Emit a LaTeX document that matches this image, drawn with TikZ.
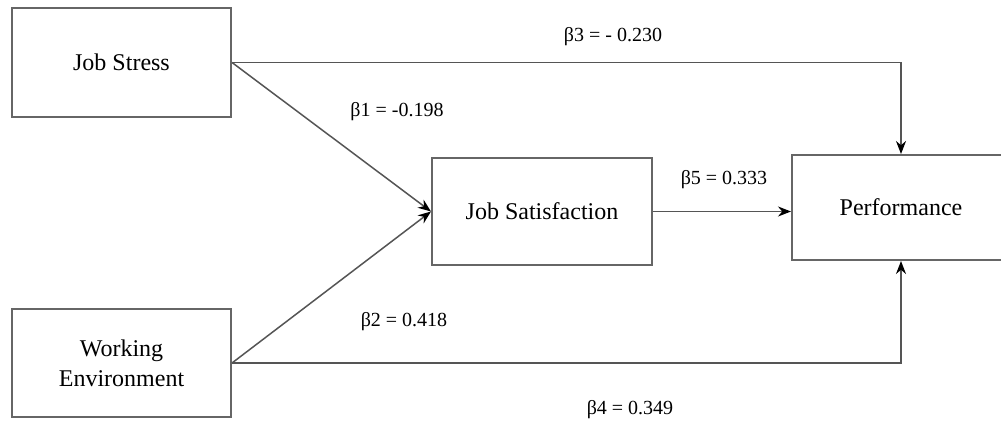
\documentclass[tikz,border=0pt]{standalone}
\usepackage{fontspec}
\setmainfont{Liberation Serif}
\usetikzlibrary{arrows.meta}
\definecolor{boxgray}{HTML}{666666}
\definecolor{linegray}{HTML}{555555}
\tikzset{
  box/.style={draw=boxgray, line width=2pt, fill=white, inner sep=0pt, align=center,
    font=\fontsize{24}{30}\selectfont},
  conn/.style={draw=linegray, line width=1.5pt, -{Stealth[length=13pt,width=10pt,color=black]}},
  coef/.style={font=\fontsize{20}{24}\selectfont, inner sep=0pt}
}
\begin{document}
\begin{tikzpicture}[x=1pt,y=-1pt]
\clip (0,0) rectangle (1001,423);
\fill[white] (0,0) rectangle (1001,423);
\node[box, minimum width=219pt, minimum height=109pt] (js) at (121.5,62.5) {Job Stress};
\node[box, minimum width=219pt, minimum height=108pt] (we) at (121.5,363) {Working\\Environment};
\node[box, minimum width=220pt, minimum height=107pt] (sat) at (542,211.5) {Job Satisfaction};
\node[box, minimum width=218pt, minimum height=105pt] (perf) at (901,207.5) {Performance};
\draw[conn] (js.east) -- (sat.west);
\draw[conn] (we.east) -- (sat.west);
\draw[conn] (sat.east) -- (sat.east -| perf.west);
\draw[conn] (js.east) -| (perf.north);
\draw[conn] (we.east) -| (perf.south);
\node[coef] (b3) at (613,37) {β3 = - 0.230};
\node[coef] (b1) at (397,112) {β1 = -0.198};
\node[coef] (b5) at (724,180) {β5 = 0.333};
\node[coef] (b2) at (404,322) {β2 = 0.418};
\node[coef] (b4) at (630,410) {β4 = 0.349};
\end{tikzpicture}
\end{document}
